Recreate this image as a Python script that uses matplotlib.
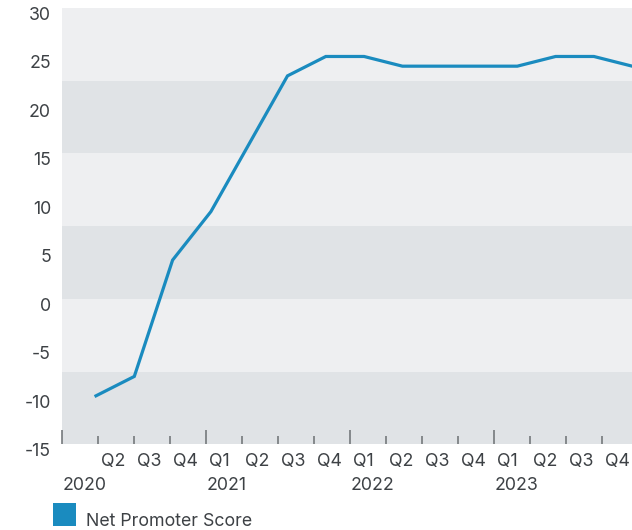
import matplotlib
matplotlib.use("Agg")
import matplotlib.pyplot as plt
import matplotlib.transforms as mtransforms
from matplotlib.patches import Rectangle

# axis categories (2020 Q1 .. 2023 Q4)
quarter_labels = ["", "Q2", "Q3", "Q4",
                  "Q1", "Q2", "Q3", "Q4",
                  "Q1", "Q2", "Q3", "Q4",
                  "Q1", "Q2", "Q3", "Q4"]
year_labels = ["2020", "2021", "2022", "2023"]

# series: 2020 Q2 .. 2023 Q4
series_name = "Net Promoter Score"
nps = [-10, -8, 4, 9, 16, 23, 25, 25, 24, 24, 24, 24, 25, 25, 24]

y_ticks = [30, 25, 20, 15, 10, 5, 0, -5, -10, -15]

LINE = "#1a8bbf"
LIGHT = "#eeeff1"
DARK = "#e0e3e6"
TEXT = "#3d4145"
TICK = "#6b6f73"

plt.rcParams['font.family'] = ['Inter', 'DejaVu Sans']
FS = 12.8

W, H = 632, 530
fig = plt.figure(figsize=(W / 100, H / 100), dpi=100)
left, right, top, bottom = 61.5, 632, 8, 444.3
ax = fig.add_axes([left / W, 1 - bottom / H, (right - left) / W, (bottom - top) / H])
ax.set_facecolor(LIGHT)
for s in ax.spines.values():
    s.set_visible(False)

ax.set_ylim(-15, 30)
for lo in (-15, 0, 15):
    ax.axhspan(lo, lo + 7.5, color=DARK, lw=0, zorder=0)

ax.set_yticks(y_ticks)
ax.set_yticklabels([str(v) for v in y_ticks])
ax.tick_params(axis='y', length=0, pad=7.5, labelsize=FS, labelcolor=TEXT)
for lbl in ax.get_yticklabels():
    lbl.set_verticalalignment('top')
    lbl.set_transform(lbl.get_transform() + mtransforms.ScaledTranslation(0, 1 / 100, fig.dpi_scale_trans))

# category axis: one tick per quarter, major ticks at year starts
n_q = len(quarter_labels)
ax.set_xlim(0, (right - left - 0.5) / 36)
major = list(range(0, n_q, 4))
minor = [i for i in range(n_q) if i % 4]
ax.set_xticks(major)
ax.set_xticklabels([quarter_labels[i] for i in major])
ax.set_xticks(minor, minor=True)
ax.set_xticklabels([quarter_labels[i] for i in minor], minor=True)
ax.tick_params(axis='x', which='major', direction='in', length=10, width=1.1, color=TICK,
               pad=6.2, labelsize=FS, labelcolor=TEXT)
ax.tick_params(axis='x', which='minor', direction='in', length=5.8, width=1.1, color=TICK,
               pad=6.2, labelsize=FS, labelcolor=TEXT)
shift = mtransforms.ScaledTranslation(3 / 100, 0, fig.dpi_scale_trans)
for lbl in ax.get_xticklabels() + ax.get_xticklabels(minor=True):
    lbl.set_horizontalalignment('left')
    lbl.set_transform(lbl.get_transform() + shift)

# year row under the quarter labels
year_tr = mtransforms.blended_transform_factory(ax.transData, ax.transAxes) + \
    mtransforms.ScaledTranslation(1 / 100, -38.7 / 100, fig.dpi_scale_trans)
for k, i in enumerate(major):
    ax.text(i, 0, year_labels[k], transform=year_tr, fontsize=FS, color=TEXT,
            ha='left', va='center_baseline')

# the line series sits on its own x scale
ax2 = ax.twiny()
ax2.set_xlim((left - 96) / 38.3, (right - 96) / 38.3)
ax2.axis('off')
ax2.plot(range(len(nps)), nps, color=LINE, lw=2.3, solid_joinstyle='miter', clip_on=True)
ax2.set_ylim(-15, 30)

# legend
fig.patches.append(Rectangle((52.7 / W, 1 - 526 / H), 23.3 / W, 23.3 / H,
                             transform=fig.transFigure, color=LINE, lw=0))
fig.text(86.5 / W, 1 - 520 / H, series_name, fontsize=FS, color=TEXT, va='center_baseline', ha='left')

fig.savefig("out.png", dpi=100)
